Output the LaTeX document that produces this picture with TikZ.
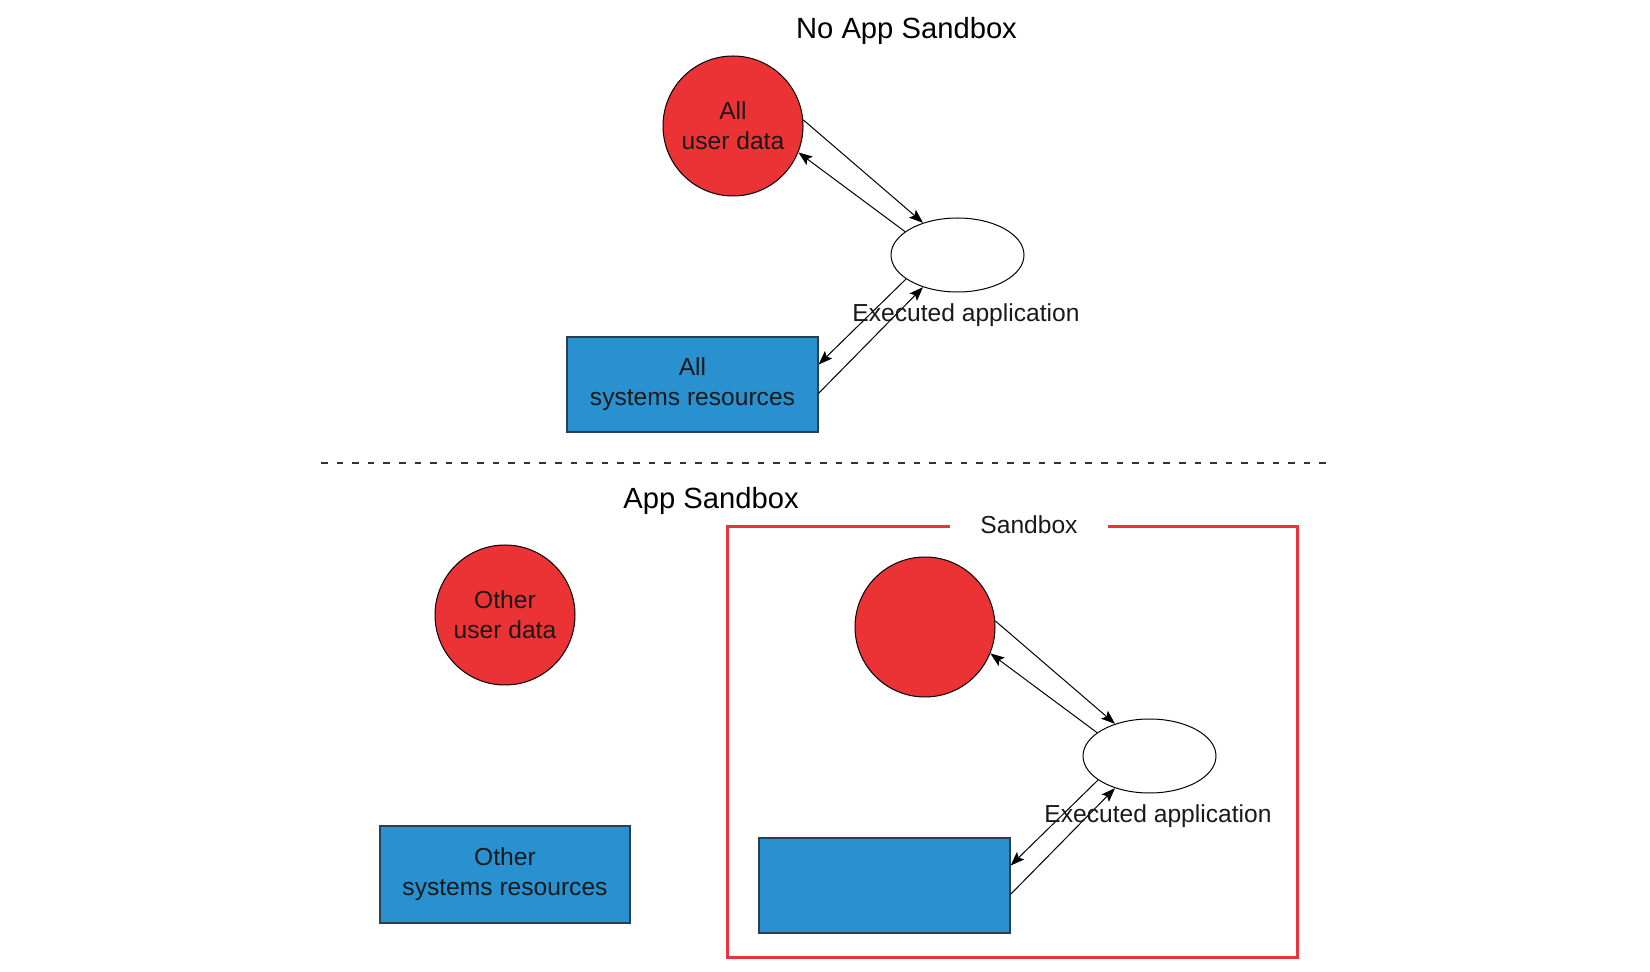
\documentclass[tikz,border=0pt]{standalone}
\usepackage{fontspec}
\setmainfont{Liberation Sans}
\usetikzlibrary{arrows.meta,shapes.geometric}
\definecolor{dred}{HTML}{EB3336}
\definecolor{dblue}{HTML}{2A91D0}
\definecolor{sbred}{HTML}{E8343A}
\definecolor{boxedge}{HTML}{2A3F52}
\begin{document}
\begin{tikzpicture}[x=0.5pt,y=-0.5pt,
 ttl/.style={font=\fontsize{14.6}{17}\selectfont, anchor=base, inner sep=0},
 lbl/.style={font=\fontsize{12.3}{15}\selectfont, align=center, text=black!90},
 datacirc/.style={circle, fill=dred, draw=black, line width=0.5pt, minimum size=70pt, inner sep=0, lbl},
 resbox/.style={rectangle, fill=dblue, draw=boxedge, line width=0.6pt, minimum width=125.5pt, minimum height=47.5pt, inner sep=0, lbl},
 appell/.style={ellipse, draw=black, line width=0.5pt, fill=white, minimum width=66.5pt, minimum height=37pt, inner sep=0},
 arr/.style={draw=black, line width=0.5pt, -{Stealth[length=7pt,width=5.2pt,inset=1.4pt]}},
]
\useasboundingbox (0,0) rectangle (1650,972);

% ---- No App Sandbox ----
\node[ttl] (t1) at (906.5,38.3) {No App Sandbox};
\node[datacirc] (ud1) at (733,126) {All\\user data};
\node[appell] (app1) at (957.5,255) {};
\node[resbox] (res1) at (692.5,384.5) {All\\systems resources};
\draw[arr] (ud1.5) -- (app1.137);
\draw[arr] (app1.156) -- (ud1.-22);
\draw[arr] (app1.205.5) -- (res1.9.7);
\draw[arr] (res1.-4.3) -- (app1.223);
\node[lbl, inner sep=0] (lab1) at (966,315) {Executed application};

% ---- separator ----
\draw[dash pattern=on 3.3pt off 4.5pt, line width=0.6pt, black!80] (321,463) -- (1328,463);

% ---- App Sandbox ----
\node[ttl] (t2) at (711,508.5) {App Sandbox};
\draw[sbred, line width=1.5pt] (950,527) -- (727,527) -- (727,957) -- (1297,957) -- (1297,527) -- (1108,527);
\node[lbl, inner sep=0] (sbl) at (1029,525) {Sandbox};

\node[datacirc] (oud) at (505,615) {Other\\user data};
\node[resbox, minimum width=125pt, minimum height=48.5pt] (ores) at (505,874.5) {Other\\systems resources};

\node[datacirc] (ud2) at (925,627) {};
\node[appell] (app2) at (1149.5,756) {};
\node[resbox] (res2) at (884.5,885.5) {};
\draw[arr] (ud2.5) -- (app2.137);
\draw[arr] (app2.156) -- (ud2.-22);
\draw[arr] (app2.205.5) -- (res2.9.7);
\draw[arr] (res2.-4.3) -- (app2.223);
\node[lbl, inner sep=0] (lab2) at (1158,816) {Executed application};
\end{tikzpicture}
\end{document}
